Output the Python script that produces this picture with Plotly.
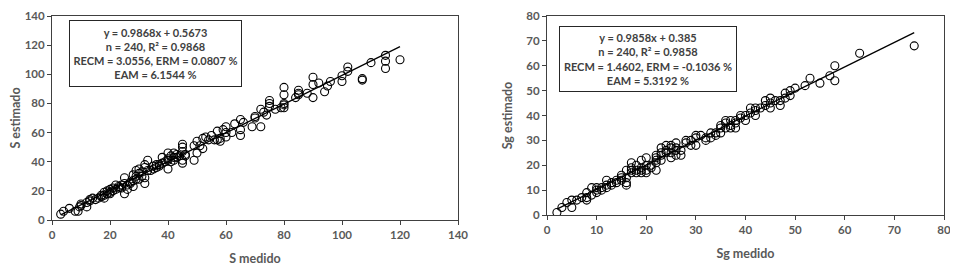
import plotly.graph_objects as go

# ---- Data: S (left panel) ----
s_medido = [3,4,6,8,9,9.5,10,10,12,12,13,14,13,15,16,17,17,18,18,18,19,19,20,20,20,21,21,22,22,23,23,24,24,25,25,25,26,26,27,27,28,28,28,29,29,29,30,30,30,31,31,32,32,32,32,33,33,34,35,35,36,36,37,37,38,38,39,40,40,40,40,41,41,42,42,42,43,43,44,45,45,45,45,45,46,46,49,49,50,50,51,52,52,53,54,55,56,57,57,58,58,59,60,60,60,62,63,65,65,65,66,69,70,70,72,72,73,74,75,75,75,77,79,80,80,80,80,80,84,85,85,85,88,90,90,90,92,94,95,96,100,100,102,102,107,107,110,115,115,115,120]
s_estimado = [4,6,8,6,6,9,11,10,9,12,14,15,13,14,15,17,16,17,15,19,18,20,19,21,18,22,20,24,21,23,22,22,24,29,18,25,21,24,25,26,27,31,23,30,34,28,28,32,35,33,30,25,29,36,38,41,34,34,35,37,38,36,38,37,43,39,40,35,46,41,42,40,44,41,43,46,45,43,44,52,50,39,41,47,45,44,51,41,46,54,51,56,49,57,55,58,55,55,61,56,54,62,64,57,60,60,66,69,62,58,67,64,70,71,64,76,74,72,78,80,82,76,77,80,91,86,77,79,84,89,87,86,87,93,98,84,94,88,92,95,95,99,105,102,96,97,108,113,109,104,110]
s_fit = [0.9868, 0.5673]
s_xrange = [3, 120]

# ---- Data: Sg (right panel) ----
sg_medido = [2,3,4,5,5,6,7,8,8,8,9,9,10,10,10,11,11,12,12,12,13,13,14,14,15,15,15,16,16,16,16,17,17,17,17,18,18,18,19,19,19,19,20,20,20,20,21,21,22,22,22,22,22,23,23,23,23,24,24,24,25,25,25,25,26,26,26,26,27,27,28,28,29,29,30,30,30,31,32,32,33,33,34,34,35,35,35,36,36,36,37,37,37,38,38,38,39,39,40,40,41,41,42,42,42,43,44,44,45,45,45,46,47,47,48,48,49,49,50,52,53,55,57,58,58,63,74]
sg_estimado = [1,3,5,6,3,6,7,9,7,6,11,8,11,9,10,11,10,14,12,11,13,12,14,13,15,16,14,18,13,12,15,21,17,19,18,18,17,20,22,19,17,18,23,20,17,18,19,20,24,22,18,21,23,27,25,22,24,28,25,26,28,23,25,27,29,27,24,26,26,24,30,29,28,30,28,31,32,32,30,31,33,31,33,32,35,33,36,38,35,37,38,36,35,38,35,37,40,39,40,38,43,41,43,40,42,43,46,44,47,43,45,46,44,46,49,47,50,48,51,52,55,53,56,60,54,65,68]
sg_fit = [0.9858, 0.385]
sg_xrange = [2, 74]

s_text = "y = 0.9868x + 0.5673<br>n = 240, R² = 0.9868<br>RECM = 3.0556, ERM = 0.0807 %<br>EAM = 6.1544 %"
sg_text = "y = 0.9858x + 0.385<br>n = 240, R² = 0.9858<br>RECM = 1.4602, ERM = -0.1036 %<br>EAM = 5.3192 %"

FONT = "Lato"
GRAY = "#595959"

fig = go.Figure()

marker = dict(symbol="circle-open", size=8, color="black", line=dict(width=1.1, color="black"))

fig.add_trace(go.Scatter(x=s_medido, y=s_estimado, mode="markers", marker=marker,
                         xaxis="x", yaxis="y", showlegend=False))
fig.add_trace(go.Scatter(x=s_xrange, y=[s_fit[0]*v + s_fit[1] for v in s_xrange], mode="lines",
                         line=dict(color="black", width=1.3), xaxis="x", yaxis="y", showlegend=False))
fig.add_trace(go.Scatter(x=sg_medido, y=sg_estimado, mode="markers", marker=marker,
                         xaxis="x2", yaxis="y2", showlegend=False))
fig.add_trace(go.Scatter(x=sg_xrange, y=[sg_fit[0]*v + sg_fit[1] for v in sg_xrange], mode="lines",
                         line=dict(color="black", width=1.3), xaxis="x2", yaxis="y2", showlegend=False))

def ax(rng, dtick, domain, anchor, title, standoff):
    return dict(range=rng, dtick=dtick, domain=domain, anchor=anchor, automargin=False,
                ticklabeloverflow="allow",
                showgrid=False, zeroline=False, showline=True, linecolor="#404040", linewidth=1,
                mirror=True, ticks="outside", ticklen=4, tickcolor="#404040",
                tickfont=dict(family=FONT, size=11.5, color=GRAY, weight="bold"),
                title=dict(text=title, font=dict(family=FONT, size=12.5, color=GRAY, weight="bold"),
                           standoff=standoff))

# page body adds an 8px offset; work in reference pixel coords minus 8
OFF = 8
W, H = 958 - OFF, 273 - OFF
px = lambda v: (v - OFF) / W
py = lambda v: 1 - (v - OFF) / H

fig.update_layout(
    width=W, height=H, margin=dict(l=0, r=0, t=0, b=0),
    plot_bgcolor="white", paper_bgcolor="white",
    xaxis=ax([0, 140], 20, [px(52), px(458)], "y", "S medido", 14),
    yaxis=ax([0, 140], 20, [py(220), py(16)], "x", "S estimado", 10),
    xaxis2=ax([0, 80], 10, [px(547), px(944)], "y2", "Sg medido", 14),
    yaxis2=ax([0, 80], 10, [py(215), py(16)], "x2", "Sg estimado", 10),
    annotations=[
        dict(text=s_text, xref="paper", yref="paper", x=px(155.5), y=py(54), showarrow=False,
             xanchor="center", yanchor="middle", align="center", width=169, height=63,
             bordercolor="#262626", borderwidth=1, borderpad=1, bgcolor="white",
             font=dict(family=FONT, size=11, color="#404040", weight="bold")),
        dict(text=sg_text, xref="paper", yref="paper", x=px(648), y=py(59), showarrow=False,
             xanchor="center", yanchor="middle", align="center", width=174, height=62,
             bordercolor="#262626", borderwidth=1, borderpad=1, bgcolor="white",
             font=dict(family=FONT, size=11, color="#404040", weight="bold")),
    ],
)

fig.write_html("out.html")
